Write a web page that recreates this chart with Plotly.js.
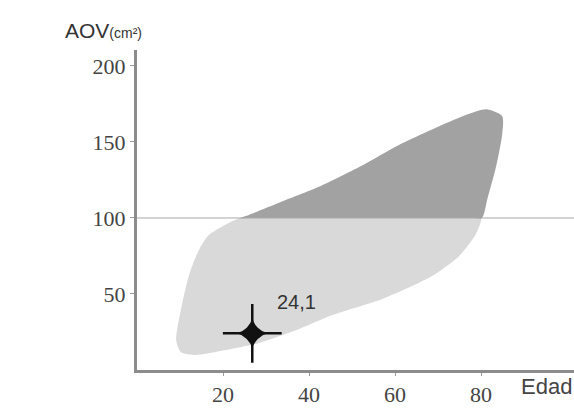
<!DOCTYPE html>
<html>
<head>
<meta charset="utf-8">
<script src="https://cdn.plot.ly/plotly-3.0.1.min.js"></script>
<style>html,body{margin:0;padding:0;background:#fff;}#chart{width:574px;height:408px;}</style>
</head>
<body>
<div id="chart"></div>
<script>
// Lower (light) region outline: Edad vs AOV
const lightX = [24, 16.7, 14.4, 12.1, 10.2, 9.1, 10.2, 13.3, 20.7, 28.4, 37.7, 45.3, 57, 68.6, 74.9, 78.8, 80, 77, 70, 60, 50, 40, 30, 26, 24];
const lightY = [100, 88.8, 79, 62.5, 39.5, 19.7, 11.8, 9.9, 13.2, 17.8, 27, 36, 46.7, 61.8, 75, 89.5, 100, 100, 100, 100, 100, 100, 100, 100, 100];
// Upper (dark) region outline
const darkX = [24, 26, 33, 42.3, 52, 60.9, 70, 77.2, 81.2, 84.9, 84.9, 83.5, 81.5, 80.2, 78, 70, 60, 50, 40, 30, 26, 24];
const darkY = [100, 102, 110, 120.5, 134, 148, 160, 168.5, 171.5, 167, 155, 134, 113, 100, 100, 100, 100, 100, 100, 100, 100, 100];
// Threshold line
const refLineX = [0, 102];
const refLineY = [100, 100];
// Patient point
const pointX = [26.8];
const pointY = [24.1];
const pointLabel = ["24,1"];
const xTicks = [20, 40, 60, 80];
const yTicks = [50, 100, 150, 200];

const traces = [
  {x: lightX, y: lightY, mode: 'lines', fill: 'toself', fillcolor: '#d9d9d9',
   line: {width: 0, shape: 'spline', smoothing: 0.7}, hoverinfo: 'skip', showlegend: false},
  {x: darkX, y: darkY, mode: 'lines', fill: 'toself', fillcolor: '#a3a2a3',
   line: {width: 0, shape: 'spline', smoothing: 0.7}, hoverinfo: 'skip', showlegend: false},
  {x: refLineX, y: refLineY, mode: 'lines', line: {color: '#a8a8a8', width: 1}, showlegend: false, hoverinfo: 'skip'},
  {x: pointX, y: pointY, mode: 'markers', marker: {symbol: 'cross-thin', size: 42, color: '#111', line: {width: 2.5, color: '#111'}}, showlegend: false},
  {x: pointX, y: pointY, mode: 'markers', marker: {symbol: 'star-diamond', size: 22, color: '#111', line: {width: 0}}, showlegend: false}
];

const layout = {
  width: 574, height: 408,
  margin: {l: 137, r: 0, t: 50, b: 38},
  paper_bgcolor: '#fff', plot_bgcolor: '#fff',
  xaxis: {range: [0, 101.6], tickvals: xTicks, ticks: 'outside', ticklen: 3, tickcolor: '#999',
    showgrid: false, zeroline: false, showline: true, linecolor: '#8c8c8c', linewidth: 3,
    tickfont: {family: 'Liberation Serif, Times New Roman, serif', size: 22, color: '#444'}},
  yaxis: {range: [0, 210.5], tickvals: yTicks, ticks: 'outside', ticklen: 4, tickcolor: '#999',
    showgrid: false, zeroline: false, showline: true, linecolor: '#8c8c8c', linewidth: 3,
    tickfont: {family: 'Liberation Serif, Times New Roman, serif', size: 22, color: '#444'}},
  annotations: [
    {x: pointX[0] + 5.3, y: 44.5, xanchor: 'left', yanchor: 'middle', showarrow: false,
     text: pointLabel[0], font: {family: 'Liberation Sans, Arial, sans-serif', size: 20, color: '#333'}},
    {xref: 'paper', yref: 'paper', x: 1.0, y: -0.05, xanchor: 'right', yanchor: 'middle', showarrow: false,
     text: 'Edad', font: {family: 'Liberation Sans Narrow, Liberation Sans, Arial, sans-serif', size: 22, color: '#444'}},
    {xref: 'paper', yref: 'paper', x: -0.17, y: 1.06, xanchor: 'left', yanchor: 'middle', showarrow: false,
     text: 'AOV<span style="font-size:14px">(cm²)</span>', font: {family: 'Liberation Sans Narrow, Liberation Sans, Arial, sans-serif', size: 21, color: '#333'}}
  ]
};

Plotly.newPlot('chart', traces, layout, {staticPlot: true, displayModeBar: false});
</script>
</body>
</html>
